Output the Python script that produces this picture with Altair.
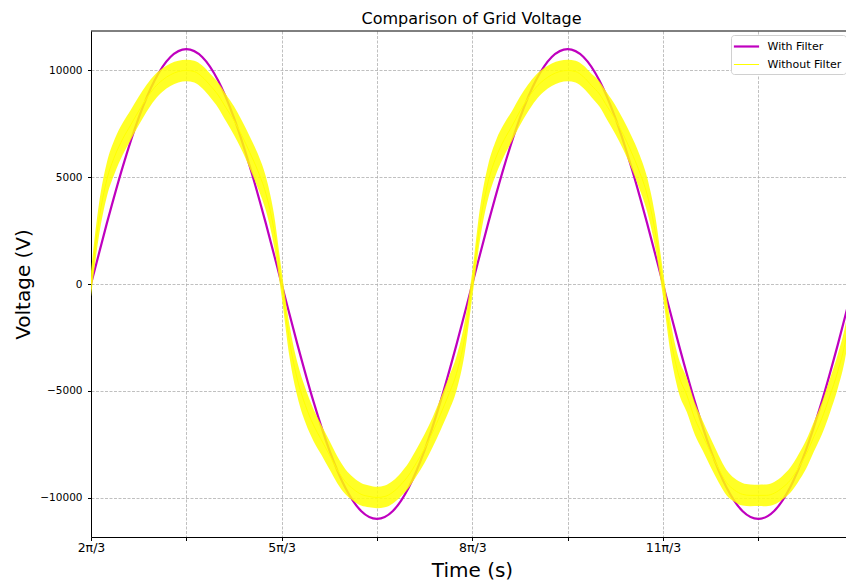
import altair as alt
import pandas as pd

# ---- data (time in units of pi) ----
series_names = ["With Filter", "Without Filter"]
series_colors = ["#bf00bf", "#ffff00"]

# filtered voltage, sampled every pi/12 starting at t = 2pi/3
with_filter = [
    0, 2850, 5500, 7780, 9530, 10630, 11000, 10630, 9530, 7780, 5500, 2850,
    0, -2850, -5500, -7780, -9530, -10630, -11000, -10630, -9530, -7780, -5500, -2850,
    0, 2850, 5500, 7780, 9530, 10630, 11000, 10630, 9530, 7780, 5500, 2850,
    0, -2850, -5500, -7780, -9530, -10630, -11000, -10630, -9530, -7780, -5500, -2850,
    0,
]

# unfiltered voltage: centre of the rippling band, sampled every pi/24
without_filter_centre = [
    0, 3000, 4900, 6000, 6800, 7450, 8100, 8700, 9200, 9550, 9800, 9950,
    10000, 9950, 9700, 9300, 8850, 8250, 7650, 6950, 6150, 5300, 4250, 2600,
    0, -2700, -4500, -5700, -6600, -7300, -8000, -8700, -9250, -9600, -9850, -9950,
    -10000, -9950, -9750, -9400, -8950, -8350, -7700, -6950, -6100, -5200, -4200, -2600,
    0, 2900, 4800, 5950, 6750, 7400, 8100, 8700, 9200, 9550, 9800, 9950,
    10000, 9950, 9700, 9300, 8900, 8300, 7700, 7000, 6200, 5300, 4200, 2500,
    0, -2600, -4300, -5200, -6300, -7100, -7900, -8650, -9300, -9650, -9850, -9900,
    -9900, -9900, -9800, -9550, -9200, -8650, -8000, -7150, -6300, -5250, -4100, -2600,
    0,
]
# half height of the high-frequency ripple band over one half cycle (pi/24 steps)
ripple_half_cycle = [600, 750, 800, 800, 750, 700, 670, 630, 590, 550, 530, 510,
                     500, 510, 530, 550, 590, 630, 670, 700, 750, 800, 800, 750]

t_start = 2 / 3
t_filter = [t_start + k / 12 for k in range(len(with_filter))]
t_nofilter = [t_start + k / 24 for k in range(len(without_filter_centre))]
ripple = [ripple_half_cycle[k % len(ripple_half_cycle)] for k in range(len(without_filter_centre))]

x_tick_values = [t_start + k / 2 for k in range(8)]
x_tick_labels = ["2π/3", "", "5π/3", "", "8π/3", "", "11π/3", ""]
y_tick_values = [-10000, -5000, 0, 5000, 10000]

# ---- tables ----
lines = pd.DataFrame({
    "t": t_filter + t_nofilter,
    "v": with_filter + without_filter_centre,
    "series": [series_names[0]] * len(with_filter) + [series_names[1]] * len(without_filter_centre),
})
band = pd.DataFrame({
    "t": t_nofilter,
    "lo": [c - r for c, r in zip(without_filter_centre, ripple)],
    "hi": [c + r for c, r in zip(without_filter_centre, ripple)],
})

W, H = 755, 506
x_scale = alt.Scale(domain=[t_start, t_start + 3.96], nice=False, zero=False)
y_scale = alt.Scale(domain=[-11850, 11850], nice=False, zero=False)

label_expr = "[" + ",".join("'" + s + "'" for s in x_tick_labels) + "][round((datum.value - %.6f) * 2)]" % t_start

x_axis = alt.Axis(values=x_tick_values, labelExpr=label_expr, tickSize=3.5, labelPadding=0.5,
                  labelFontSize=12.5, titleFontSize=20, titleX=381, titleY=39,
                  titleBaseline="alphabetic", titleAlign="center", labelFlush=False,
                  labelOverlap=False, grid=True)
y_axis = alt.Axis(values=y_tick_values, format="d", tickSize=3.5, labelPadding=5.5,
                  labelFontSize=10.5, titleFontSize=20, titleX=-61.5, titleY=H / 2,
                  titleBaseline="alphabetic", titleAlign="center", titleAngle=270, grid=True)

legend = alt.Legend(orient="none", legendX=640, legendY=4, title=None, fillColor="white",
                    strokeColor="#d0d0d0", cornerRadius=3, padding=4, labelFontSize=11,
                    labelFont="DejaVu Sans", labelColor="black", symbolType="M-2.1,0H2.1",
                    symbolSize=144, symbolOffset=4, labelOffset=13.5, rowPadding=6)

line_layer = alt.Chart(lines).mark_line(interpolate="monotone", clip=True).encode(
    x=alt.X("t:Q", scale=x_scale, axis=x_axis, title="Time (s)"),
    y=alt.Y("v:Q", scale=y_scale, axis=y_axis, title="Voltage (V)"),
    color=alt.Color("series:N", scale=alt.Scale(domain=series_names, range=series_colors), legend=legend),
    strokeWidth=alt.StrokeWidth("series:N", scale=alt.Scale(domain=series_names, range=[2.2, 1]), legend=legend),
)

band_layer = alt.Chart(band).mark_area(color="#ffff00", opacity=0.85, interpolate="monotone", clip=True).encode(
    x=alt.X("t:Q", scale=x_scale, axis=x_axis, title="Time (s)"),
    y=alt.Y("lo:Q", scale=y_scale, axis=y_axis, title="Voltage (V)"),
    y2="hi:Q",
)

top_spine = alt.Chart(pd.DataFrame({"a": [0]})).mark_rule(color="black", strokeWidth=1).encode(
    x=alt.value(0), x2=alt.value(W), y=alt.value(0)
)

chart = alt.layer(line_layer, band_layer, top_spine).properties(
    width=W, height=H,
    autosize=alt.AutoSizeParams(type="none"),
    padding={"left": 91, "top": 31, "right": 0, "bottom": 48},
    title=alt.TitleParams("Comparison of Grid Voltage", fontSize=16, font="DejaVu Sans",
                          fontWeight="normal", offset=4, dx=3, color="black"),
    background="white",
).configure_view(stroke=None).configure_axis(
    gridColor="#b0b0b0", gridDash=[3, 1.5], gridWidth=0.8, domainColor="black",
    tickColor="black", labelColor="black", titleColor="black", labelFont="DejaVu Sans",
    titleFont="DejaVu Sans", titleFontWeight="normal",
)

chart.save("out.html", embed_options={"renderer": "svg", "actions": False})
